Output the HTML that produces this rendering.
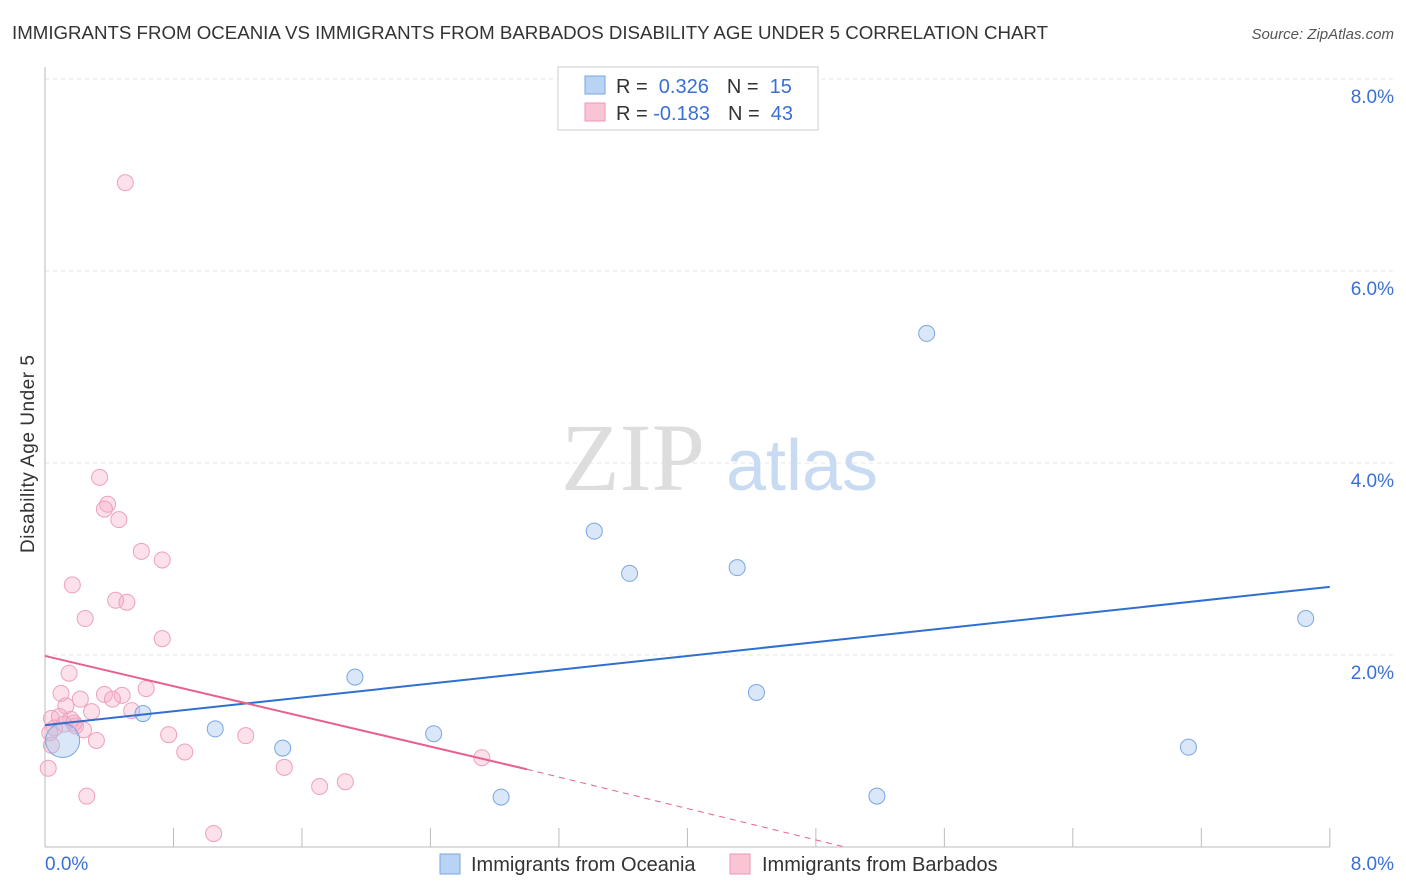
<!DOCTYPE html>
<html><head><meta charset="utf-8"><style>
body{margin:0;background:#fff;font-family:"Liberation Sans",sans-serif}
#c{position:absolute;left:0;top:0}
</style></head><body>
<svg id="c" width="1406" height="892" xmlns="http://www.w3.org/2000/svg">
<text x="12" y="39" font-size="18.7" fill="#333" textLength="1036">IMMIGRANTS FROM OCEANIA VS IMMIGRANTS FROM BARBADOS DISABILITY AGE UNDER 5 CORRELATION CHART</text>
<text x="1394" y="39" font-size="15" fill="#555" font-style="italic" text-anchor="end">Source: ZipAtlas.com</text>
<text x="34" y="454" font-size="19" fill="#333" text-anchor="middle" textLength="198" transform="rotate(-90 34 454)">Disability Age Under 5</text>
<g id="grid"></g>
<text x="633" y="490" font-size="96" fill="#ddd" font-family="Liberation Serif" text-anchor="middle">ZIP</text>
<text x="802" y="490" font-size="72" fill="#c9dbf2" text-anchor="middle">atlas</text>
<g id="marks"></g>
<g>
<rect x="558" y="67" width="260" height="63" fill="#fff" stroke="#ccc"/>
<rect x="585" y="76" width="20" height="18" fill="#b9d3f5" stroke="#7aa6e0"/>
<rect x="585" y="103" width="20" height="18" fill="#f9c5d5" stroke="#ee98b4"/>
<text x="616" y="93" font-size="20" fill="#333">R = <tspan fill="#3a6fd8">&#160;0.326</tspan><tspan dx="18">N = </tspan><tspan fill="#3a6fd8">&#160;15</tspan></text>
<text x="616" y="120" font-size="20" fill="#333">R = <tspan fill="#3a6fd8">-0.183</tspan><tspan dx="18">N = </tspan><tspan fill="#3a6fd8">&#160;43</tspan></text>
</g>
<g>
<rect x="440" y="854" width="20" height="20" fill="#b9d3f5" stroke="#7aa6e0"/>
<text x="471" y="871" font-size="20" fill="#333">Immigrants from Oceania</text>
<rect x="730" y="854" width="20" height="20" fill="#f9c5d5" stroke="#ee98b4"/>
<text x="762" y="871" font-size="20" fill="#333">Immigrants from Barbados</text>
</g>
<text x="45" y="870" font-size="19" fill="#3a6fd8">0.0%</text>
<text x="1394" y="870" font-size="19" fill="#3a6fd8" text-anchor="end">8.0%</text>
</svg>
<script>
const yTicks=[2,4,6,8];
const oceaniaX=[0.11,0.61,1.06,1.48,1.93,2.42,2.84,3.42,3.64,4.31,4.43,5.18,5.49,7.12,7.85];
const oceaniaY=[1.11,1.39,1.23,1.03,1.77,1.18,0.52,3.29,2.85,2.91,1.61,0.53,5.35,1.04,2.38];
const barbadosX=[0.50,0.34,0.39,0.37,0.46,0.60,0.73,0.17,0.44,0.51,0.25,0.73,0.15,0.10,0.22,0.37,0.48,0.63,0.42,0.13,0.29,0.54,0.04,0.09,0.16,0.19,0.24,0.12,0.06,0.03,0.32,0.77,1.25,0.87,1.49,0.02,0.26,1.71,1.87,2.72,1.05,0.04,0.18];
const barbadosY=[6.92,3.85,3.57,3.52,3.41,3.08,2.99,2.73,2.57,2.55,2.38,2.17,1.81,1.60,1.54,1.59,1.58,1.65,1.54,1.47,1.41,1.42,1.34,1.36,1.33,1.26,1.22,1.28,1.24,1.19,1.11,1.17,1.16,0.99,0.83,0.82,0.53,0.63,0.68,0.93,0.14,1.06,1.29];
const blueLine=[0.255,[0,1.27],[8,2.71]];
const pinkLine=[[0,1.99],[3,0.81],[4.98,0]];
const X=v=>45+v*160.6, Y=v=>847-v*96;
const NS="http://www.w3.org/2000/svg";
function mk(t,a,p){const e=document.createElementNS(NS,t);for(const k in a)e.setAttribute(k,a[k]);p.appendChild(e);return e;}
const g=document.getElementById('grid'),m=document.getElementById('marks');
for(const t of yTicks){
 const l=mk('line',{x1:45,x2:1394,y1:Y(t),y2:Y(t),stroke:'#e4e4e4','stroke-dasharray':'4 4'},g);
 
 
 const tx=mk('text',{x:1394,y:Y(t)+24,'font-size':19,fill:'#3a6fd8','text-anchor':'end'},g);
 tx.textContent=t.toFixed(1)+'%';
 
 
}
const ax=mk('line',{x1:45,x2:45,y1:67,y2:847,stroke:'#bbb'},g);


const bx=mk('line',{x1:45,x2:1330,y1:847,y2:847,stroke:'#bbb'},g);


for(let i=0;i<=10;i++){
 const tk=mk('line',{x1:X(i*0.8),x2:X(i*0.8),y1:828,y2:847,stroke:'#bbb'},g);
 
 
}
barbadosX.forEach((x,i)=>{
 const c=mk('circle',{cx:X(x),cy:Y(barbadosY[i]),r:8,fill:'rgba(246,170,195,0.35)',stroke:'#eea0ba','stroke-width':1},m);
 
 
});
oceaniaX.forEach((x,i)=>{
 const c=mk('circle',{cx:X(x),cy:Y(oceaniaY[i]),r:i==0?17:8,fill:'rgba(160,195,240,0.4)',stroke:'#7aa6e0','stroke-width':1},m);
 
 
});
const bl=mk('line',{x1:X(blueLine[1][0]),y1:Y(blueLine[1][1]),x2:X(blueLine[2][0]),y2:Y(blueLine[2][1]),stroke:'#2f6fd0','stroke-width':2},m);


const pl=mk('line',{x1:X(pinkLine[0][0]),y1:Y(pinkLine[0][1]),x2:X(pinkLine[1][0]),y2:Y(pinkLine[1][1]),stroke:'#e8608f','stroke-width':2},m);


const pd=mk('line',{x1:X(pinkLine[1][0]),y1:Y(pinkLine[1][1]),x2:X(pinkLine[2][0]),y2:Y(pinkLine[2][1]),stroke:'#e8608f','stroke-width':1,'stroke-dasharray':'6 5'},m);


</script>
</body></html>
